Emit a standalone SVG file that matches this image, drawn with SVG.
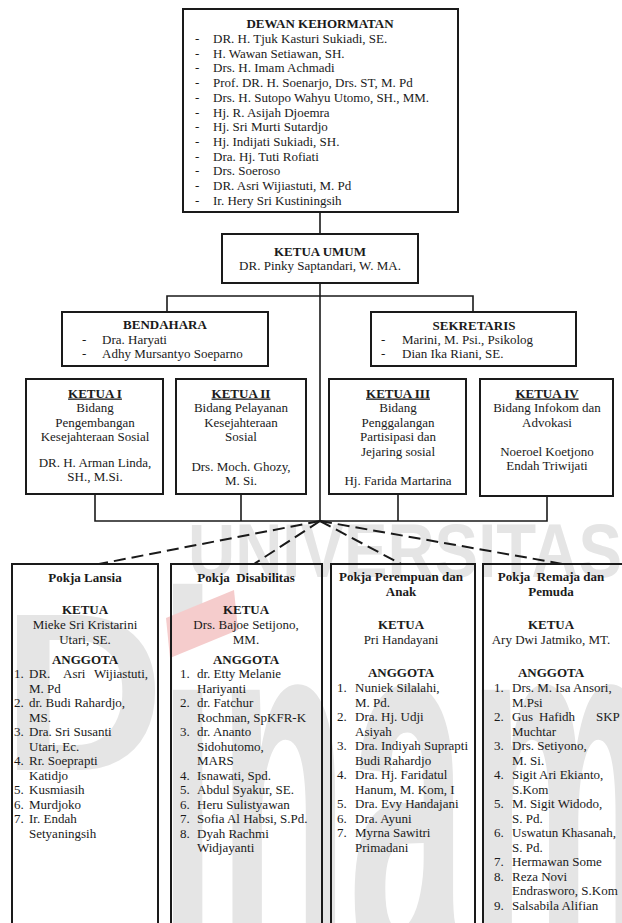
<svg xmlns="http://www.w3.org/2000/svg" width="622" height="923" viewBox="0 0 622 923">
<style>
text{font-family:"Liberation Serif","Times New Roman",serif;font-size:13px;fill:#1a1a1a}
.b{font-weight:bold}
.c{text-anchor:middle}
.u{text-decoration:underline}
.box{fill:none;stroke:#1a1a1a;stroke-width:2}
.ln{fill:none;stroke:#1a1a1a;stroke-width:1.6}
.ds{fill:none;stroke:#1a1a1a;stroke-width:2;stroke-dasharray:12 6}
text.wm{font-family:"Liberation Sans",Arial,sans-serif;font-weight:bold;fill:#e5e5e5}
</style>
<rect width="622" height="923" fill="#fff"/>
<g id="watermark">
<text class="wm" x="188" y="577" style="font-size:76px" textLength="434" lengthAdjust="spacingAndGlyphs">UNIVERSITAS</text>
<text class="wm" x="2" y="770" style="font-size:225px">D</text>
<text class="wm" x="158" y="975" style="font-size:540px" textLength="500" lengthAdjust="spacingAndGlyphs">inam</text>
<polygon points="166,618 234,590 238,630 170,658" fill="#f5cccc"/>
</g>
<g id="connectors">
<line class="ln" x1="320" y1="212" x2="320" y2="234"/>
<line class="ln" x1="320" y1="283" x2="320" y2="521"/>
<polyline class="ln" points="167,312 167,296 473,296 473,312"/>
<polyline class="ln" points="95,494 95,521 547,521 547,496"/>
<line class="ln" x1="241" y1="494" x2="241" y2="521"/>
<line class="ln" x1="398" y1="494" x2="398" y2="521"/>
<line class="ds" x1="320" y1="521" x2="99" y2="564"/>
<line class="ds" x1="320" y1="521" x2="254" y2="564"/>
<line class="ds" x1="320" y1="521" x2="401" y2="564"/>
<line class="ds" x1="320" y1="521" x2="563" y2="564"/>
</g>
<g id="dewan-kehormatan">
<rect class="box" x="183" y="9" width="275" height="203"/>
<text class="b c" x="320" y="28">DEWAN KEHORMATAN</text>
<text x="195" y="43">-</text><text x="213" y="43">DR. H. Tjuk Kasturi Sukiadi, SE.</text>
<text x="195" y="57.7">-</text><text x="213" y="57.7">H. Wawan Setiawan, SH.</text>
<text x="195" y="72.4">-</text><text x="213" y="72.4">Drs. H. Imam Achmadi</text>
<text x="195" y="87.1">-</text><text x="213" y="87.1">Prof. DR. H. Soenarjo, Drs. ST, M. Pd</text>
<text x="195" y="101.8">-</text><text x="213" y="101.8">Drs. H. Sutopo Wahyu Utomo, SH., MM.</text>
<text x="195" y="116.5">-</text><text x="213" y="116.5">Hj. R. Asijah Djoemra</text>
<text x="195" y="131.2">-</text><text x="213" y="131.2">Hj. Sri Murti Sutardjo</text>
<text x="195" y="145.9">-</text><text x="213" y="145.9">Hj. Indijati Sukiadi, SH.</text>
<text x="195" y="160.6">-</text><text x="213" y="160.6">Dra. Hj. Tuti Rofiati</text>
<text x="195" y="175.3">-</text><text x="213" y="175.3">Drs. Soeroso</text>
<text x="195" y="190">-</text><text x="213" y="190">DR. Asri Wijiastuti, M. Pd</text>
<text x="195" y="204.7">-</text><text x="213" y="204.7">Ir. Hery Sri Kustiningsih</text>
</g>
<g id="ketua-umum">
<rect class="box" x="222" y="234" width="196" height="49"/>
<text class="b c" x="320" y="256">KETUA UMUM</text>
<text class="c" x="320" y="270">DR. Pinky Saptandari, W. MA.</text>
</g>
<g id="bendahara">
<rect class="box" x="62" y="312" width="206" height="54"/>
<text class="b c" x="165" y="329">BENDAHARA</text>
<text x="82" y="344">-</text><text x="102" y="344">Dra. Haryati</text>
<text x="82" y="358">-</text><text x="102" y="358">Adhy Mursantyo Soeparno</text>
</g>
<g id="sekretaris">
<rect class="box" x="371" y="312" width="205" height="54"/>
<text class="b c" x="474" y="330">SEKRETARIS</text>
<text x="381" y="344">-</text><text x="402" y="344">Marini, M. Psi., Psikolog</text>
<text x="381" y="358">-</text><text x="402" y="358">Dian Ika Riani, SE.</text>
</g>
<g id="ketua-1">
<rect class="box" x="26" y="379" width="137" height="115"/>
<text class="b c u" x="95" y="397.5">KETUA I</text>
<text class="c" x="95" y="412">Bidang</text>
<text class="c" x="95" y="426.5">Pengembangan</text>
<text class="c" x="95" y="440.5">Kesejahteraan Sosial</text>
<text class="c" x="95" y="467">DR. H. Arman Linda,</text>
<text class="c" x="95" y="481">SH., M.Si.</text>
</g>
<g id="ketua-2">
<rect class="box" x="176" y="379" width="130" height="115"/>
<text class="b c u" x="241" y="397.5">KETUA II</text>
<text class="c" x="241" y="412">Bidang Pelayanan</text>
<text class="c" x="241" y="426.5">Kesejahteraan</text>
<text class="c" x="241" y="440.5">Sosial</text>
<text class="c" x="241" y="471">Drs. Moch. Ghozy,</text>
<text class="c" x="241" y="485">M. Si.</text>
</g>
<g id="ketua-3">
<rect class="box" x="329" y="379" width="137" height="115"/>
<text class="b c u" x="398" y="397.5">KETUA III</text>
<text class="c" x="398" y="412">Bidang</text>
<text class="c" x="398" y="426.5">Penggalangan</text>
<text class="c" x="398" y="441">Partisipasi dan</text>
<text class="c" x="398" y="455.5">Jejaring sosial</text>
<text class="c" x="398" y="485">Hj. Farida Martarina</text>
</g>
<g id="ketua-4">
<rect class="box" x="480" y="379" width="133" height="117"/>
<text class="b c u" x="547" y="397.5">KETUA IV</text>
<text class="c" x="547" y="412">Bidang Infokom dan</text>
<text class="c" x="547" y="426.5">Advokasi</text>
<text class="c" x="547" y="455.5">Noeroel Koetjono</text>
<text class="c" x="547" y="470">Endah Triwijati</text>
</g>
<g id="pokja-lansia">
<rect class="box" x="12" y="564" width="146" height="380"/>
<text class="b c" x="85" y="582">Pokja Lansia</text>
<text class="b c" x="85" y="614">KETUA</text>
<text class="c" x="85" y="629">Mieke Sri Kristarini</text>
<text class="c" x="85" y="644">Utari, SE.</text>
<text class="b c" x="85" y="664">ANGGOTA</text>
<text x="14" y="678">1.</text><text x="29" y="678">DR.</text><text x="63" y="678">Asri</text><text x="94" y="678">Wijiastuti,</text>
<text x="29" y="692.5">M. Pd</text>
<text x="14" y="707">2.</text><text x="29" y="707">dr. Budi Rahardjo,</text>
<text x="29" y="721.5">MS.</text>
<text x="14" y="736">3.</text><text x="29" y="736">Dra. Sri Susanti</text>
<text x="29" y="750.5">Utari, Ec.</text>
<text x="14" y="765">4.</text><text x="29" y="765">Rr. Soeprapti</text>
<text x="29" y="779.5">Katidjo</text>
<text x="14" y="794">5.</text><text x="29" y="794">Kusmiasih</text>
<text x="14" y="808.5">6.</text><text x="29" y="808.5">Murdjoko</text>
<text x="14" y="823">7.</text><text x="29" y="823">Ir. Endah</text>
<text x="29" y="837.5">Setyaningsih</text>
</g>
<g id="pokja-disabilitas">
<rect class="box" x="171" y="564" width="151" height="380"/>
<text class="b c" x="246" y="582" xml:space="preserve">Pokja  Disabilitas</text>
<text class="b c" x="246" y="614">KETUA</text>
<text class="c" x="246" y="629">Drs. Bajoe Setijono,</text>
<text class="c" x="246" y="644">MM.</text>
<text class="b c" x="246" y="664">ANGGOTA</text>
<text x="180" y="678">1.</text><text x="197" y="678">dr. Etty Melanie</text>
<text x="197" y="692.5">Hariyanti</text>
<text x="180" y="707">2.</text><text x="197" y="707">dr. Fatchur</text>
<text x="197" y="721.5">Rochman, SpKFR-K</text>
<text x="180" y="736">3.</text><text x="197" y="736">dr. Ananto</text>
<text x="197" y="750.5">Sidohutomo,</text>
<text x="197" y="765">MARS</text>
<text x="180" y="779.5">4.</text><text x="197" y="779.5">Isnawati, Spd.</text>
<text x="180" y="794">5.</text><text x="197" y="794">Abdul Syakur, SE.</text>
<text x="180" y="808.5">6.</text><text x="197" y="808.5">Heru Sulistyawan</text>
<text x="180" y="823">7.</text><text x="197" y="823">Sofia Al Habsi, S.Pd.</text>
<text x="180" y="837.5">8.</text><text x="197" y="837.5">Dyah Rachmi</text>
<text x="197" y="852">Widjayanti</text>
</g>
<g id="pokja-perempuan">
<rect class="box" x="331" y="564" width="144" height="380"/>
<text class="b c" x="401" y="581">Pokja Perempuan dan</text>
<text class="b c" x="401" y="596">Anak</text>
<text class="b c" x="401" y="629">KETUA</text>
<text class="c" x="401" y="644">Pri Handayani</text>
<text class="b c" x="401" y="677">ANGGOTA</text>
<text x="337" y="692">1.</text><text x="355" y="692">Nuniek Silalahi,</text>
<text x="355" y="706.5">M. Pd.</text>
<text x="337" y="721">2.</text><text x="355" y="721">Dra. Hj. Udji</text>
<text x="355" y="735.5">Asiyah</text>
<text x="337" y="750">3.</text><text x="355" y="750">Dra. Indiyah Suprapti</text>
<text x="355" y="764.5">Budi Rahardjo</text>
<text x="337" y="779">4.</text><text x="355" y="779">Dra. Hj. Faridatul</text>
<text x="355" y="793.5">Hanum, M. Kom, I</text>
<text x="337" y="808">5.</text><text x="355" y="808">Dra. Evy Handajani</text>
<text x="337" y="822.5">6.</text><text x="355" y="822.5">Dra. Ayuni</text>
<text x="337" y="837">7.</text><text x="355" y="837">Myrna Sawitri</text>
<text x="355" y="851.5">Primadani</text>
</g>
<g id="pokja-remaja">
<rect class="box" x="483" y="564" width="150" height="380"/>
<text class="b c" x="551" y="581" xml:space="preserve">Pokja  Remaja dan</text>
<text class="b c" x="551" y="596">Pemuda</text>
<text class="b c" x="551" y="629">KETUA</text>
<text class="c" x="551" y="644">Ary Dwi Jatmiko, MT.</text>
<text class="b c" x="551" y="677">ANGGOTA</text>
<text x="494" y="692">1.</text><text x="512" y="692">Drs. M. Isa Ansori,</text>
<text x="512" y="706.5">M.Psi</text>
<text x="494" y="721">2.</text><text x="512" y="721">Gus</text><text x="539" y="721">Hafidh</text><text x="596" y="721">SKP</text>
<text x="512" y="735.5">Muchtar</text>
<text x="494" y="750">3.</text><text x="512" y="750">Drs. Setiyono,</text>
<text x="512" y="764.5">M. Si.</text>
<text x="494" y="779">4.</text><text x="512" y="779">Sigit Ari Ekianto,</text>
<text x="512" y="793.5">S.Kom</text>
<text x="494" y="808">5.</text><text x="512" y="808">M. Sigit Widodo,</text>
<text x="512" y="822.5">S. Pd.</text>
<text x="494" y="837">6.</text><text x="512" y="837">Uswatun Khasanah,</text>
<text x="512" y="851.5">S. Pd.</text>
<text x="494" y="866">7.</text><text x="512" y="866">Hermawan Some</text>
<text x="494" y="880.5">8.</text><text x="512" y="880.5">Reza Novi</text>
<text x="512" y="895">Endrasworo, S.Kom</text>
<text x="494" y="909.5">9.</text><text x="512" y="909.5">Salsabila Alifian</text>
</g>
</svg>
